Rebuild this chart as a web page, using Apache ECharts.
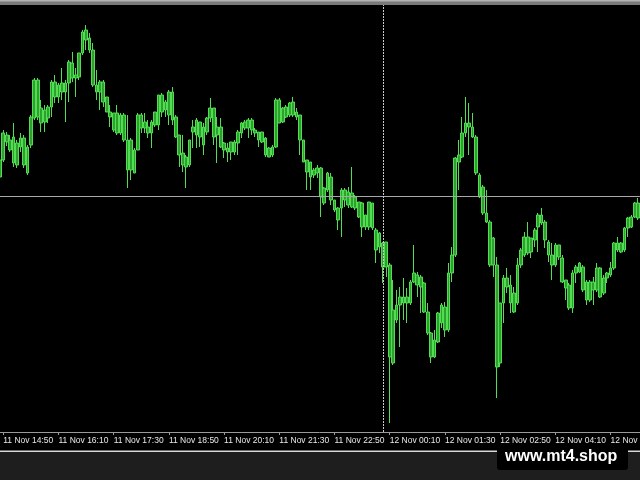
<!DOCTYPE html>
<html>
<head>
<meta charset="utf-8">
<script src="https://cdn.jsdelivr.net/npm/echarts@6/dist/echarts.min.js"></script>
<style>
html,body{margin:0;padding:0;background:#000;}
#chart{width:640px;height:480px;}
</style>
</head>
<body>
<div id="chart"></div>
<script>
// 5-minute bars, first bar 11 Nov 14:45
const startDay = 11, startMinutes = 14 * 60 + 45, stepMinutes = 5;
const tickLabels = ["11 Nov 14:50","11 Nov 16:10","11 Nov 17:30","11 Nov 18:50","11 Nov 20:10","11 Nov 21:30",
  "11 Nov 22:50","12 Nov 00:10","12 Nov 01:30","12 Nov 02:50","12 Nov 04:10","12 Nov 05:30"];
const open = [
  323,340,358,360,363,357,353,362,353,355,
  382,420,392,378,382,393,403,415,408,417,
  417,422,425,423,447,460,462,450,415,408,
  418,403,388,387,387,385,385,360,330,350,
  350,385,378,373,367,375,375,388,398,385,
  408,383,365,347,343,335,368,365,378,373,
  368,382,392,373,373,357,352,348,348,357,
  367,372,372,380,370,368,368,362,352,345,
  353,400,378,383,385,398,388,385,360,340,
  338,325,327,332,312,310,323,300,292,292,
  310,308,293,303,298,297,273,273,297,270,
  253,257,233,235,137,195,195,203,197,197,
  218,225,223,217,188,167,143,158,177,193,
  170,227,245,338,343,367,377,373,363,325,
  313,287,278,235,235,137,197,222,215,207,
  197,235,245,263,248,260,273,285,278,258,
  245,235,255,242,220,215,192,227,228,233,
  218,200,218,210,232,207,222,225,232,257,
  248,250,272,273,283,297];
const close = [
  340,367,365,350,337,335,362,335,327,383,
  420,383,377,390,393,418,418,403,417,408,
  438,437,422,447,468,470,450,415,408,418,
  398,388,383,370,367,367,360,330,360,327,
  385,372,372,367,378,388,405,405,390,408,
  380,363,345,335,333,360,373,380,363,355,
  382,392,363,365,353,350,348,358,358,368,
  377,378,380,370,367,360,358,345,343,353,
  400,377,392,393,397,385,383,360,338,328,
  323,330,332,303,297,327,300,290,280,310,
  300,295,307,292,283,273,285,298,272,250,
  267,233,258,143,190,180,203,197,203,218,
  227,215,213,188,167,143,160,187,195,170,
  227,245,342,345,367,377,373,363,327,303,
  287,278,235,262,133,197,222,213,197,188,
  235,250,263,247,262,270,285,277,260,245,
  235,255,243,218,212,192,227,233,237,210,
  200,218,210,232,203,222,227,232,257,250,
  257,272,282,283,297,282];
const low = [
  320,338,354,348,333,332,348,332,325,352,
  380,380,368,368,377,383,397,397,400,378,
  398,418,403,420,445,450,447,413,400,390,
  393,388,373,368,365,365,358,312,320,327,
  350,367,367,362,352,373,370,383,383,375,
  375,362,333,328,312,333,352,352,353,345,
  365,378,355,337,352,342,338,340,345,345,
  362,370,362,365,363,353,357,343,343,343,
  352,377,377,382,383,383,380,345,338,310,
  310,322,322,283,295,308,295,288,270,263,
  293,292,292,290,282,263,270,270,270,237,
  247,217,223,77,135,177,153,180,177,195,
  217,203,187,187,165,137,142,157,172,163,
  168,218,243,310,342,363,345,362,325,302,
  285,277,233,223,102,133,177,207,187,187,
  195,232,243,245,242,253,248,275,252,238,
  220,233,240,217,200,190,187,217,227,208,
  195,198,195,208,202,205,217,223,230,248,
  247,248,263,272,282,280];
const high = [
  343,370,368,365,377,360,367,365,355,385,
  422,422,400,395,395,420,425,417,432,420,
  440,448,432,447,470,475,467,457,430,420,
  420,403,395,387,395,387,387,385,362,352,
  387,387,387,380,380,388,405,407,400,410,
  413,385,365,365,345,360,380,382,378,377,
  383,402,392,383,382,358,357,358,360,370,
  378,380,382,382,372,368,368,363,353,355,
  402,402,393,395,398,403,392,385,360,340,
  338,332,335,333,313,328,327,300,293,312,
  312,313,333,305,298,298,285,298,297,272,
  268,258,258,237,220,210,213,222,212,220,
  255,228,225,218,197,168,170,188,197,198,
  237,253,343,360,383,403,397,387,365,327,
  315,310,280,263,243,197,225,232,225,213,
  242,252,268,278,262,272,287,292,280,260,
  257,257,255,245,220,217,230,235,238,235,
  220,220,223,237,233,225,228,238,258,263,
  258,273,283,285,298,302];
const hLineLevel = 303.5;      // horizontal line price
const vLineBar = 111;          // index of bar with vertical period separator
const watermark = "www.mt4.shop";

function pad(n){ return (n < 10 ? "0" : "") + n; }
const categories = open.map((_, i) => {
  const m = startMinutes + i * stepMinutes;
  const d = startDay + Math.floor(m / 1440);
  const mm = m % 1440;
  return d + " Nov " + pad(Math.floor(mm / 60)) + ":" + pad(mm % 60);
});
const ohlc = open.map((o, i) => [o, close[i], low[i], high[i]]);
const showIdx = (i) => i >= 1 && (i - 1) % 16 === 0;

const chart = echarts.init(document.getElementById('chart'), null, {renderer: 'canvas'});
chart.setOption({
  animation: false,
  backgroundColor: '#000',
  grid: {left: -1.9, top: 4, width: 641.8, bottom: 48, containLabel: false, outerBoundsMode: 'none'},
  xAxis: {
    type: 'category', data: categories, boundaryGap: true,
    axisLine: {show: true, lineStyle: {color: '#9a9a9a', width: 1}},
    axisTick: {show: true, alignWithLabel: true, interval: (i) => showIdx(i), length: 3, lineStyle: {color: '#9a9a9a'}},
    axisLabel: {
      show: true, interval: (i) => showIdx(i), align: 'left', margin: 4, hideOverlap: false,
      color: '#e8e8e8', fontFamily: 'Liberation Sans', fontSize: 8.5,
      formatter: (v, i) => tickLabels[(i - 1) / 16] || v
    },
    splitLine: {show: false}
  },
  yAxis: {
    type: 'value', min: 68, max: 496, show: false, splitLine: {show: false}
  },
  series: [{
    type: 'candlestick', data: ohlc, barWidth: 3.2,
    itemStyle: {color: '#2ea02e', color0: '#2ea02e', borderColor: '#52de52', borderColor0: '#52de52', borderWidth: 1},
    markLine: {
      silent: true, symbol: ['none', 'none'], label: {show: false}, animation: false,
      data: [
        {yAxis: hLineLevel, lineStyle: {color: '#a8a8a8', width: 1, type: 'solid'}},
        {xAxis: vLineBar, lineStyle: {color: '#c8c8c8', width: 1, type: [2, 1]}}
      ]
    }
  }],
  graphic: [
    {type: 'rect', left: 0, top: 0, shape: {width: 640, height: 5}, style: {fill: '#7a7a7a'}, z: 10},
    {type: 'rect', left: 0, top: 0, shape: {width: 640, height: 1.5}, style: {fill: '#b4b4b4'}, z: 11},
    {type: 'rect', left: 0, top: 451, shape: {width: 640, height: 29}, style: {fill: '#1e1e1e'}, z: 10},
    {type: 'rect', left: 0, top: 450.5, shape: {width: 640, height: 1.5}, style: {fill: '#d8d8d8'}, z: 11},
    {type: 'rect', left: 497, top: 447, shape: {width: 131, height: 23, r: 3}, style: {fill: '#000'}, z: 12},
    {type: 'text', left: 505, top: 449, style: {text: watermark, fill: '#ffffff', font: 'bold 16px "Liberation Sans"'}, z: 13}
  ]
});
</script>
</body>
</html>
